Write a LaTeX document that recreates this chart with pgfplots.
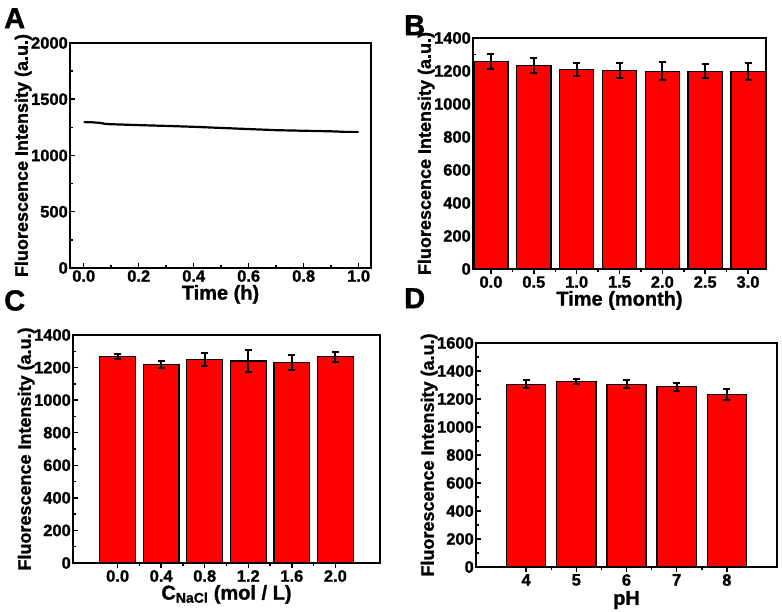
\documentclass[border=0pt]{standalone}
\usepackage{fontspec}
\setmainfont{Liberation Sans}[BoldFeatures={FakeBold=1.2}]
\usepackage{pgfplots}
\pgfplotsset{compat=1.18}

\pgfplotsset{
  panel/.style={
    scale only axis, anchor=south west,
    axis line style={line width=1.8pt},
    every tick/.style={line width=1.5pt, black},
    major tick length=5pt, minor tick length=3pt,
    tick align=inside, xtick pos=lower, ytick pos=left,
    ticklabel style={font=\bfseries\fontsize{16.5}{16.5}\selectfont},
    xticklabel style={inner sep=2pt},
    yticklabel style={inner sep=2pt},
    xlabel style={font=\bfseries\fontsize{20}{20}\selectfont, inner sep=1pt},
    ylabel style={font=\bfseries\fontsize{18}{18}\selectfont, yshift=-6pt},
    /pgf/number format/assume math mode=true,
    /pgf/number format/1000 sep={},
    scaled ticks=false,
    ymin=0, minor y tick num=1,
    ylabel={Fluorescence Intensity (a.u.)},
  },
  onedec/.style={xticklabel style={/pgf/number format/.cd, fixed, fixed zerofill, precision=1}},
  bars/.style={ybar, bar width=#1, bar shift=0pt, xtick=data, minor x tick num=1},
  redbar/.style={fill=red, draw=black, line width=1.3pt,
    error bars/.cd, y dir=both, y explicit,
    error bar style={line width=2pt, black},
    error mark options={rotate=90, line width=2pt, black, mark size=3.5pt}},
}

\begin{document}
\begin{tikzpicture}
\useasboundingbox (0,0) rectangle (782pt,611pt);

% A
\begin{axis}[panel, onedec, at={(70pt,343pt)}, width=301pt, height=225pt,
  xmin=-0.05, xmax=1.045, ymax=2000, xtick={0,0.2,...,1.0}, minor x tick num=1,
  ytick={0,500,1000,1500,2000}, xlabel={Time (h)}]
\addplot[black, line width=2.2pt] coordinates {
(0.00,1297) (0.03,1295) (0.06,1290) (0.08,1280) (0.10,1278) (0.20,1270)
(0.30,1263) (0.40,1255) (0.50,1245) (0.60,1235) (0.70,1225) (0.80,1220)
(0.90,1215) (0.95,1210) (1.00,1210)};
\end{axis}

% B
\begin{axis}[panel, onedec, bars=0.4, at={(473pt,342pt)}, width=293pt, height=231pt,
  xmin=-0.21, xmax=3.21, ymax=1400, ytick={0,200,...,1400}, xlabel={Time (month)}]
\addplot[redbar] coordinates {
(0.0,1258) +- (0,43) (0.5,1232) +- (0,45) (1.0,1208) +- (0,40) (1.5,1202) +- (0,44)
(2.0,1198) +- (0,55) (2.5,1198) +- (0,42) (3.0,1198) +- (0,52)};
\end{axis}

% C
\begin{axis}[panel, onedec, bars=0.33, at={(73pt,48pt)}, width=307pt, height=228pt,
  xmin=-0.41, xmax=2.41, ymax=1400, ytick={0,200,...,1400},
  xlabel={C\textsubscript{NaCl} (mol / L)}]
\addplot[redbar] coordinates {
(0.0,1268) +- (0,18) (0.4,1219) +- (0,23) (0.8,1251) +- (0,41)
(1.2,1241) +- (0,69) (1.6,1233) +- (0,46) (2.0,1266) +- (0,31)};
\end{axis}

% D
\begin{axis}[panel, bars=0.78, at={(476pt,44pt)}, width=301pt, height=224pt,
  xmin=3, xmax=9, ymax=1600, ytick={0,200,...,1600}, xlabel={pH},
  xlabel style={yshift=-2pt}]
\addplot[redbar] coordinates {
(4,1305) +- (0,29) (5,1325) +- (0,18) (6,1305) +- (0,29) (7,1288) +- (0,28) (8,1232) +- (0,36)};
\end{axis}

\node[anchor=north west, inner sep=0pt, font=\bfseries\fontsize{29}{29}\selectfont] at (4pt,603pt) {A};
\node[anchor=north west, inner sep=0pt, font=\bfseries\fontsize{29}{29}\selectfont] at (404pt,596pt) {B};
\node[anchor=north west, inner sep=0pt, font=\bfseries\fontsize{29}{29}\selectfont] at (4pt,321pt) {C};
\node[anchor=north west, inner sep=0pt, font=\bfseries\fontsize{29}{29}\selectfont] at (404pt,323pt) {D};
\end{tikzpicture}
\end{document}
